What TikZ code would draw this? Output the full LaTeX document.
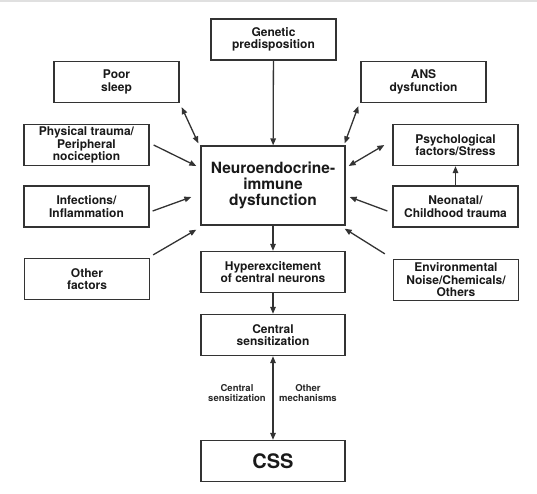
\documentclass[tikz,border=0pt]{standalone}
\usepackage{fontspec}
\setmainfont{TeX Gyre Heros}
\usetikzlibrary{arrows.meta}

\begin{document}
\begin{tikzpicture}[x=1pt,y=-1pt,>={Triangle[length=7pt,width=5.5pt]},
box/.style={draw=black!80,line width=1.3pt,align=center,minimum width=125pt,minimum height=41pt,inner sep=2pt,font=\bfseries\fontsize{12}{12.5}\selectfont,text=black!90},
core/.style={box,minimum width=144pt,minimum height=79pt,font=\bfseries\fontsize{15.5}{15.7}\selectfont},
wide/.style={box,minimum width=144pt},
arr/.style={->,line width=1.3pt,draw=black!80},
note/.style={align=center,font=\bfseries\fontsize{9.5}{10}\selectfont,text=black!85}]
\useasboundingbox (0,0) rectangle (537,493);
\draw[black!12,line width=1.5pt] (0,0.75) -- (537,0.75);
% centre column
\node[core] (neuro) at (273,185.5) {Neuroendocrine-\\immune\\dysfunction};
\node[box] (gen) at (273.5,39.5) {Genetic\\predisposition};
\node[wide] (hyper) at (273,272) {Hyperexcitement\\of central neurons};
\node[wide] (csens) at (273,335) {Central\\sensitization};
\node[wide,font=\bfseries\fontsize{20}{22}\selectfont] (css) at (273,461) {CSS};
% left side
\node[box] (sleep) at (116.5,82) {Poor\\sleep};
\node[box] (phys) at (86.5,145) {Physical trauma/\\Peripheral\\nociception};
\node[box] (infec) at (86.5,206.5) {Infections/\\Inflammation};
\node[box] (other) at (87,279) {Other\\factors};
% right side
\node[box] (ans) at (423.5,82) {ANS\\dysfunction};
\node[box] (psych) at (455.5,145) {Psychological\\factors/Stress};
\node[box] (neo) at (455.5,206.5) {Neonatal/\\Childhood trauma};
\node[box] (env) at (456,280) {Environmental\\Noise/Chemicals/\\Others};
% labels on the last arrow
\node[note] (lblcs) at (237,393) {Central\\sensitization};
\node[note] (lblom) at (308,393) {Other\\mechanisms};
% arrows
\draw[arr] (gen) -- (neuro);
\draw[arr,<->] ([shift={(2,4)}]sleep.south east) -- ([shift={(-2,-2)}]neuro.north west);
\draw[arr] ([shift={(4,0)}]phys.east) -- ([shift={(-4,-19.5)}]neuro.west);
\draw[arr] ([shift={(3,4.5)}]infec.east) -- ([shift={(-9,11.5)}]neuro.west);
\draw[arr] ([shift={(3,-3)}]other.north east) -- ([shift={(-4,4)}]neuro.south west);
\draw[arr,<->] ([shift={(-2,3)}]ans.south west) -- ([shift={(-1,-2)}]neuro.north east);
\draw[arr,<->] ([shift={(-8,0)}]psych.west) -- ([shift={(3,-19.5)}]neuro.east);
\draw[arr] ([shift={(-5,4.5)}]neo.west) -- ([shift={(4,11.5)}]neuro.east);
\draw[arr] ([shift={(-8,-5)}]env.north west) -- ([shift={(-1,3)}]neuro.south east);
\draw[arr] (neo) -- (psych);
\draw[arr] (neuro) -- (hyper);
\draw[arr] (hyper) -- (csens);
\draw[arr,<->] (csens) -- (css);
\end{tikzpicture}
\end{document}
